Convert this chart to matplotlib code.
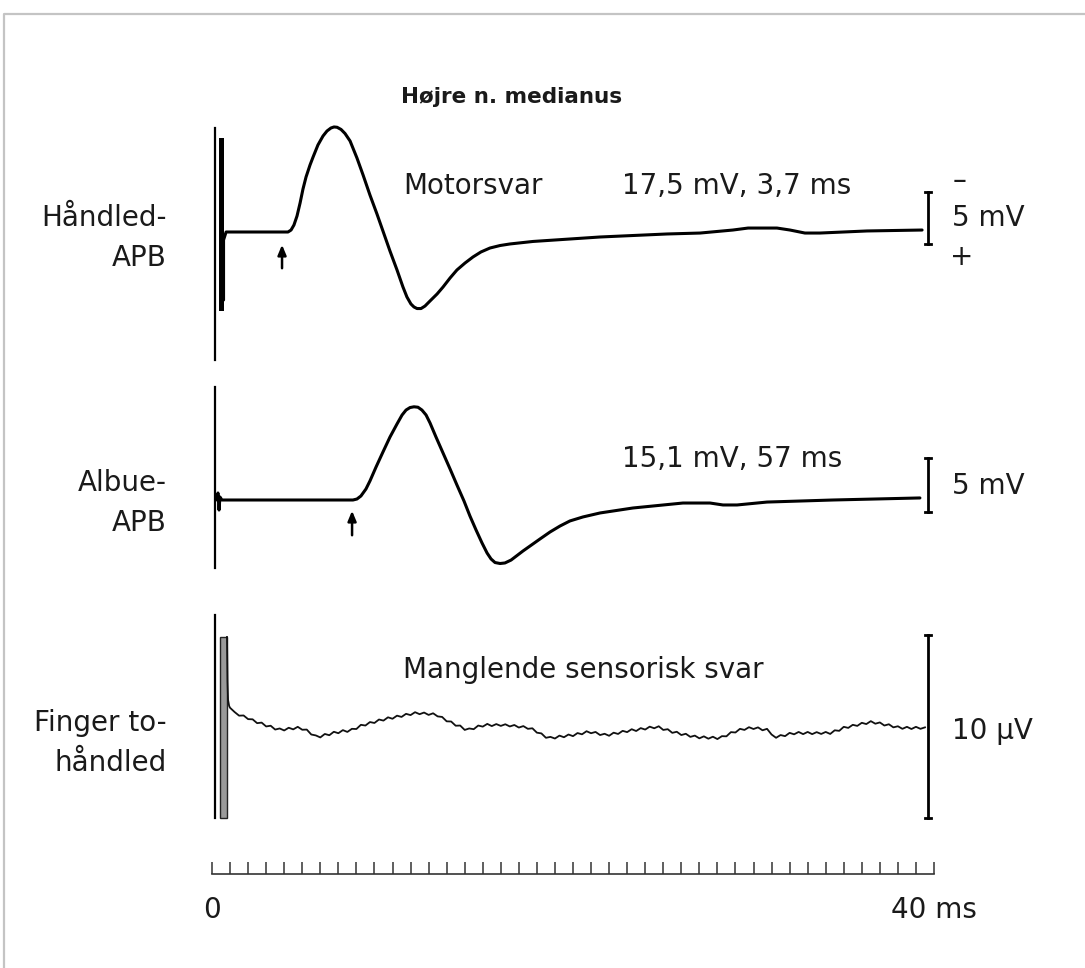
import numpy as np
import matplotlib.pyplot as plt

plt.rcParams['font.family'] = ['DejaVu Sans']

W, H = 1085, 968

# ---- data (time in ms, amplitude in mV or uV) ----
# Panel 1: wrist -> APB
t1 = [0.78, 2.11, 4.21, 4.38, 4.54, 4.71, 4.88, 5.04, 5.21, 5.43, 5.60, 5.87, 6.15,
      6.37, 6.59, 6.76, 6.93, 7.15, 7.37, 7.65, 8.03, 8.37, 8.75, 9.14, 9.47, 9.86,
      10.25, 10.58, 10.80, 11.02, 11.19, 11.36, 11.58, 11.80, 12.08, 12.47, 12.80,
      13.19, 13.57, 14.02, 14.46, 14.90, 15.40, 15.96, 16.51, 17.78, 21.50, 25.21,
      27.04, 28.86, 29.70, 31.30, 32.02, 32.85, 33.68, 36.29, 39.34]
v1 = [0.0, 0.0, 0.0, 0.19, 0.67, 1.54, 2.79, 4.13, 5.29, 6.44, 7.21, 8.37, 9.23,
      9.71, 10.00, 10.10, 10.07, 9.86, 9.47, 8.75, 7.12, 5.48, 3.56, 1.73, 0.10,
      -1.83, -3.65, -5.29, -6.25, -6.92, -7.21, -7.36, -7.36, -7.12, -6.63, -5.96,
      -5.29, -4.42, -3.65, -2.98, -2.40, -1.92, -1.54, -1.30, -1.15, -0.91, -0.48,
      -0.19, -0.10, 0.19, 0.38, 0.38, 0.19, -0.10, -0.10, 0.10, 0.19]
art1_t = [0.64, 0.64, 0.78]
art1_v = [-6.54, -0.77, 0.0]
stim1 = (0.17, 10.0, -12.3)     # time, top, bottom of clipped stimulus line
bar1 = (0.50, 8.85, -7.31)      # thick artifact bar

# Panel 2: elbow -> APB
t2 = [0.28, 0.33, 0.39, 0.44, 0.55, 4.88, 7.81, 8.03, 8.25, 8.53, 8.75, 9.09, 9.47,
      9.86, 10.25, 10.53, 10.75, 10.97, 11.19, 11.41, 11.63, 11.86, 12.08, 12.41,
      12.80, 13.19, 13.57, 13.96, 14.29, 14.63, 14.96, 15.24, 15.46, 15.68, 15.96,
      16.23, 16.57, 16.90, 17.23, 17.62, 18.17, 18.73, 19.28, 19.83, 20.55, 21.50,
      23.32, 26.09, 27.59, 28.31, 29.09, 30.75, 34.40, 39.22]
v2 = [0.0, 0.65, -0.93, 0.28, 0.0, 0.0, 0.0, 0.09, 0.37, 1.02, 1.76, 3.06, 4.44,
      5.83, 7.04, 7.87, 8.33, 8.56, 8.63, 8.59, 8.33, 7.87, 7.13, 5.83, 4.35, 2.87,
      1.39, -0.09, -1.48, -2.78, -3.98, -4.91, -5.46, -5.79, -5.88, -5.83, -5.56,
      -5.14, -4.72, -4.26, -3.61, -2.96, -2.41, -1.94, -1.57, -1.20, -0.74, -0.28,
      -0.28, -0.46, -0.46, -0.19, 0.0, 0.19]
stim2 = (0.17, 10.46, -6.30)

# Panel 3: finger -> wrist (sensory, uV)
t3_head = [0.83, 0.86, 0.89, 0.95]
v3_head = [4.92, 2.5, 1.48, 1.15]
t3 = np.arange(1.0, 39.51, 0.25)
v3 = [1.05, 0.82, 0.62, 0.63, 0.43, 0.42, 0.21, 0.24, 0.03, 0.07, -0.14, -0.08,
      -0.19, -0.04, -0.13, 0.01, -0.15, -0.14, -0.41, -0.46, -0.57, -0.38, -0.45,
      -0.26, -0.34, -0.17, -0.27, -0.10, -0.11, 0.12, 0.08, 0.27, 0.22, 0.41, 0.35,
      0.53, 0.45, 0.62, 0.55, 0.72, 0.65, 0.81, 0.70, 0.79, 0.66, 0.75, 0.58, 0.55,
      0.31, 0.30, 0.07, 0.08, -0.16, -0.08, -0.12, 0.08, 0.02, 0.17, 0.05, 0.16,
      0.06, 0.15, 0.03, 0.11, -0.03, 0.05, -0.10, -0.07, -0.31, -0.35, -0.59, -0.54,
      -0.63, -0.47, -0.56, -0.41, -0.50, -0.33, -0.40, -0.23, -0.34, -0.27, -0.44,
      -0.37, -0.48, -0.31, -0.38, -0.21, -0.28, -0.12, -0.22, -0.06, -0.14, 0.02,
      -0.07, 0.04, -0.16, -0.12, -0.32, -0.26, -0.44, -0.37, -0.54, -0.47, -0.62,
      -0.51, -0.64, -0.53, -0.66, -0.50, -0.51, -0.28, -0.30, -0.10, -0.16, -0.01,
      -0.11, -0.02, -0.18, -0.10, -0.41, -0.59, -0.44, -0.50, -0.32, -0.40, -0.27,
      -0.39, -0.27, -0.39, -0.28, -0.38, -0.27, -0.38, -0.18, -0.21, 0.01, -0.05,
      0.12, 0.06, 0.23, 0.16, 0.32, 0.18, 0.25, 0.08, 0.15, -0.02, 0.04, -0.10,
      0.01, -0.11, 0.01, -0.10, -0.02]
stim3 = (0.17, 6.12, -4.97)
art3_t = (0.44, 0.83)
art3_v = (4.92, -4.97)

# calibration bars: (top, bottom)
cal1 = (3.85, -1.15)   # 5 mV
cal2 = (3.89, -1.11)   # 5 mV
cal3 = (5.03, -4.97)   # 10 uV
cal_t = 39.67

# onset arrows: time, tail, head
arrow1 = (3.88, -3.75, -0.96)
arrow2 = (7.76, -3.52, -0.74)

ticks_ms = np.arange(0, 41, 1)

# ---- layout helpers ----
x0_px, px_per_ms = 212, 18.05


def panel(base_px, px_per_unit):
    ax = fig.add_axes([0, 0, 1, 1])
    ax.patch.set_alpha(0)
    ax.set_xlim(-x0_px / px_per_ms, (W - x0_px) / px_per_ms)
    ax.set_ylim(-(H - base_px) / px_per_unit, base_px / px_per_unit)
    ax.axis('off')
    return ax


def txt(x, y, s, **kw):
    kw.setdefault('fontsize', 20)
    kw.setdefault('va', 'center')
    fig.text(x / W, 1 - y / H, s, color='#1a1a1a', **kw)


def calbar(ax, top, bottom):
    ax.plot([cal_t, cal_t], [bottom, top], color='k', lw=2)
    for yy in (top, bottom):
        ax.plot([cal_t - 0.17, cal_t + 0.17], [yy, yy], color='k', lw=2)


def arrow(ax, a):
    ax.annotate('', xy=(a[0], a[2]), xytext=(a[0], a[1]),
                arrowprops=dict(arrowstyle='-|>,head_width=0.25,head_length=0.6',
                                color='k', lw=1.8))


fig = plt.figure(figsize=(W / 100, H / 100), dpi=100)

# frame (top and left edge only visible)
frame = fig.add_axes([0, 0, 1, 1])
frame.set_xlim(0, W)
frame.set_ylim(H, 0)
frame.axis('off')
frame.plot([4, 4, W], [H, 14, 14], color='#c4c4c4', lw=1.6)

# panel 1
ax1 = panel(232, 10.4)
ax1.plot([stim1[0]] * 2, stim1[1:], color='k', lw=1.6)
ax1.plot([bar1[0]] * 2, bar1[1:], color='k', lw=3.6)
ax1.plot(art1_t + t1, art1_v + v1, color='k', lw=2.2,
         solid_joinstyle='round', solid_capstyle='round')
calbar(ax1, *cal1)
arrow(ax1, arrow1)

# panel 2
ax2 = panel(500, 10.8)
ax2.plot([stim2[0]] * 2, stim2[1:], color='k', lw=1.6)
ax2.plot(t2, v2, color='k', lw=2.2, solid_joinstyle='round', solid_capstyle='round')
calbar(ax2, *cal2)
arrow(ax2, arrow2)

# panel 3
ax3 = panel(727, 18.3)
ax3.plot([stim3[0]] * 2, stim3[1:], color='k', lw=1.6)
ax3.bar((art3_t[0] + art3_t[1]) / 2, art3_v[0] - art3_v[1], bottom=art3_v[1],
        width=art3_t[1] - art3_t[0], color='#9a9a9a', edgecolor='#222222', lw=1)
ax3.plot(t3_head + list(t3), v3_head + v3, color='#111111', lw=1.3)
calbar(ax3, *cal3)

# time axis
axt = fig.add_axes([x0_px / W, 1 - 874 / H, 40 * px_per_ms / W, 0.05])
axt.patch.set_alpha(0)
axt.set_xlim(0, 40)
for s in ('top', 'left', 'right'):
    axt.spines[s].set_visible(False)
axt.spines['bottom'].set_color('#333333')
axt.spines['bottom'].set_linewidth(1.2)
axt.set_yticks([])
axt.set_xticks(ticks_ms)
axt.set_xticklabels(['0'] + [''] * 39 + ['40 ms'], fontsize=20, color='#1a1a1a')
axt.tick_params(axis='x', direction='in', length=9, width=1.1, color='#333333', pad=16)

# texts
txt(401, 97, 'Højre n. medianus', fontsize=15.5, fontweight='bold')
txt(403, 186, 'Motorsvar')
txt(622, 186, '17,5 mV, 3,7 ms')
txt(167, 218, 'Håndled-', ha='right')
txt(167, 258, 'APB', ha='right')
txt(953, 181, '–')
txt(952, 218, '5 mV')
txt(950, 257, '+')
txt(622, 459, '15,1 mV, 57 ms')
txt(952, 486, '5 mV')
txt(167, 483, 'Albue-', ha='right')
txt(167, 523, 'APB', ha='right')
txt(403, 670, 'Manglende sensorisk svar')
txt(167, 723, 'Finger to-', ha='right')
txt(167, 763, 'håndled', ha='right')
txt(952, 731, '10 µV')

fig.savefig('out.png', dpi=100)
